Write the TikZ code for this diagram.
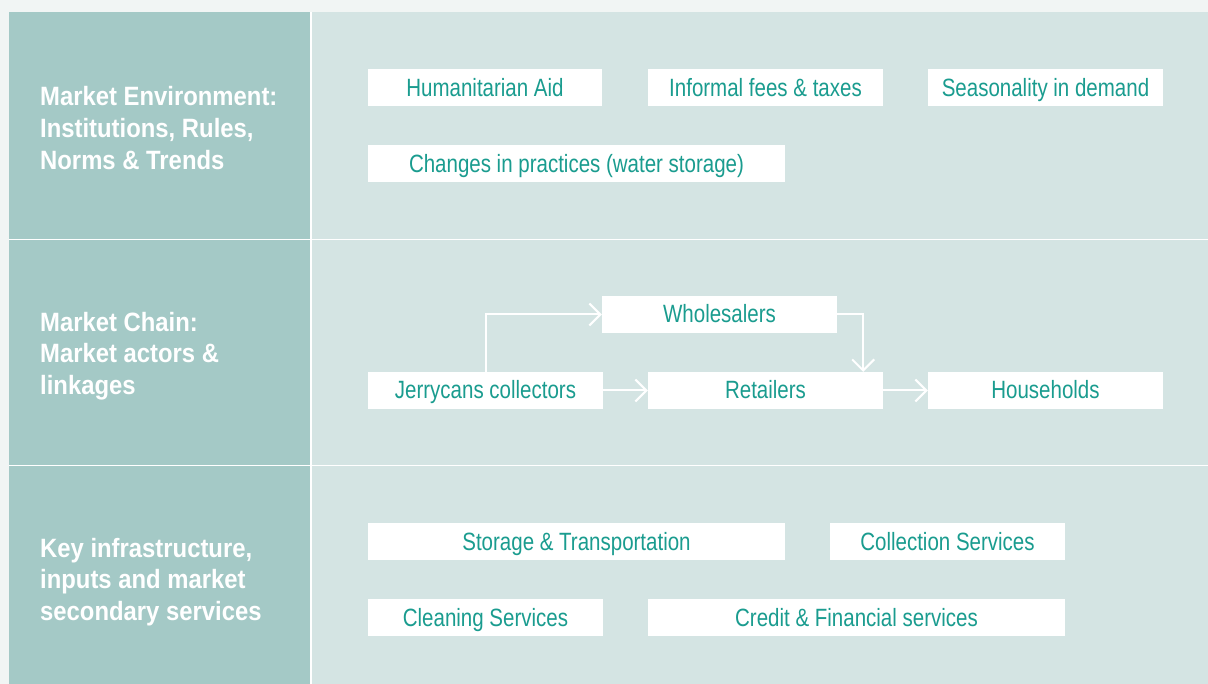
\documentclass[tikz,border=0pt]{standalone}
\usepackage{fontspec}
\setmainfont{Liberation Sans}[FakeStretch=0.82]
\newfontfamily\labelfont{Liberation Sans}[FakeStretch=0.9]
\usetikzlibrary{arrows.meta}
\definecolor{pagebg}{HTML}{F1F5F4}
\definecolor{leftcol}{HTML}{A4C9C6}
\definecolor{rightcol}{HTML}{D4E4E3}
\definecolor{tealtext}{HTML}{1A9C8F}
\tikzset{
  itembox/.style={fill=white, text=tealtext, minimum height=37pt, inner sep=0pt,
    text height=20.5pt, text depth=3.5pt,
    font=\fontsize{25}{29}\selectfont},
  rowlabel/.style={text=white, anchor=west, align=left, inner sep=0pt,
    font=\labelfont\fontsize{26.5}{31.7}\selectfont\bfseries},
  flow/.style={draw=white, line width=2pt, -{Straight Barb[length=11pt,width=22pt,line width=2pt]}},
  divider/.style={draw=white, line width=1.5pt}
}
\begin{document}
\begin{tikzpicture}[x=1pt,y=-1pt]
\useasboundingbox (0,0) rectangle (1208,684);
\fill[pagebg] (0,0) rectangle (1208,684);
\fill[leftcol] (9,12) rectangle (311,684);
\fill[rightcol] (311,12) rectangle (1208,684);
\draw[divider] (311,12) -- (311,684);
\draw[divider] (9,239.5) -- (1208,239.5);
\draw[divider] (9,465.5) -- (1208,465.5);

\node[rowlabel] (l1) at (40,128) {Market Environment:\\Institutions, Rules,\\Norms \& Trends};
\node[rowlabel] (l2) at (40,356) {Market Chain:\\Market actors \&\\linkages};
\node[rowlabel] (l3) at (40,582) {Key infrastructure,\\inputs and market\\secondary services};

\node[itembox, minimum width=234pt] (aid) at (485,88) {Humanitarian Aid};
\node[itembox, minimum width=235pt] (fees) at (765.5,88) {Informal fees \& taxes};
\node[itembox, minimum width=235pt] (season) at (1045.5,88) {Seasonality in demand};
\node[itembox, minimum width=417pt] (changes) at (576.5,164) {Changes in practices (water storage)};

\node[itembox, minimum width=235pt] (whole) at (719.5,314.5) {Wholesalers};
\node[itembox, minimum width=235pt] (jerry) at (485.5,390.5) {Jerrycans collectors};
\node[itembox, minimum width=235pt] (retail) at (765.5,390.5) {Retailers};
\node[itembox, minimum width=235pt] (house) at (1045.5,390.5) {Households};

\node[itembox, minimum width=417pt] (storage) at (576.5,541.5) {Storage \& Transportation};
\node[itembox, minimum width=235pt] (collect) at (947.5,541.5) {Collection Services};
\node[itembox, minimum width=235pt] (clean) at (485.5,617.5) {Cleaning Services};
\node[itembox, minimum width=417pt] (credit) at (856.5,617.5) {Credit \& Financial services};

\draw[flow] (jerry.north) |- (whole.west);
\draw[flow] (whole.east) -| ([xshift=-20pt]retail.north east);
\draw[flow] (jerry.east) -- (retail.west);
\draw[flow] (retail.east) -- (house.west);
\end{tikzpicture}
\end{document}
